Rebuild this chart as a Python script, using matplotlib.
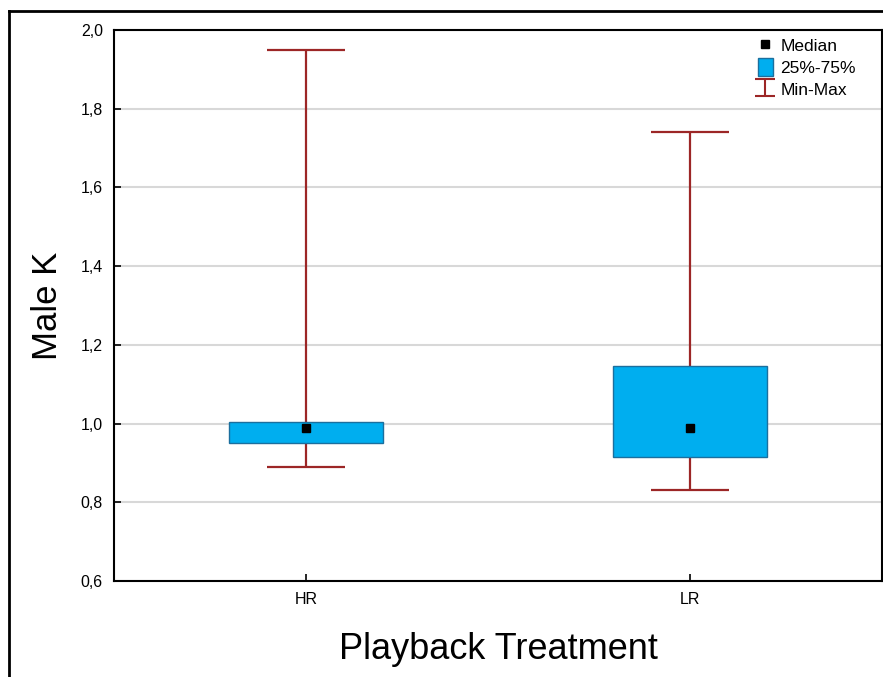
import numpy as np
import matplotlib
matplotlib.use("Agg")
from matplotlib import pyplot as plt
from matplotlib.lines import Line2D
from matplotlib.patches import Patch

# data
groups = ["HR", "LR"]
medians = [0.989, 0.989]
q1 = [0.951, 0.915]
q3 = [1.004, 1.146]
mins = [0.890, 0.831]
maxs = [1.949, 1.741]
yticks = [0.6, 0.8, 1.0, 1.2, 1.4, 1.6, 1.8, 2.0]

box_color = "#00aeef"
box_edge = "#1b6f9e"
whisk_color = "#9c2626"

plt.rcParams["font.family"] = ["Liberation Sans", "DejaVu Sans"]

fig = plt.figure(figsize=(8.83, 6.77), dpi=100)
ax = fig.add_axes([0.1291, 0.1418, 0.8698, 0.8139])

x = np.arange(len(groups))
med = np.array(medians)
lo = med - np.array(mins)
hi = np.array(maxs) - med

# min-max whiskers behind the boxes
ax.errorbar(x, med, yerr=[lo, hi], fmt="none", ecolor=whisk_color,
            elinewidth=1.6, capsize=28, capthick=1.6, zorder=2)
ax.bar(x, np.array(q3) - np.array(q1), bottom=q1, width=0.40,
       color=box_color, edgecolor=box_edge, linewidth=1.0, zorder=3)
ax.plot(x, med, "s", color="black", markersize=6, zorder=4)

ax.set_xlim(-0.5, 1.5)
ax.set_ylim(0.6, 2.0)
ax.set_xticks(x)
ax.set_xticklabels(groups, fontsize=11.5)
ax.set_yticks(yticks)
ax.set_yticklabels([("%.1f" % v).replace(".", ",") for v in yticks], fontsize=11.5)
ax.tick_params(direction="in", length=5, width=1.2, pad=8)
ax.yaxis.grid(True, color="#d8d8d8", linewidth=1.5, zorder=0)
ax.set_axisbelow(True)
for s in ax.spines.values():
    s.set_linewidth(1.5)

ax.set_ylabel("Male K", fontsize=25, labelpad=12)
ax.set_xlabel("Playback Treatment", fontsize=26, labelpad=18)

# legend
dummy = ax.errorbar([np.nan], [np.nan], yerr=[[0.1]], fmt="none",
                    ecolor=whisk_color, elinewidth=1.5, capsize=7, capthick=1.5)
handles = [
    Line2D([], [], marker="s", color="black", linestyle="none", markersize=6),
    Patch(facecolor=box_color, edgecolor=box_edge),
    dummy,
]
ax.legend(handles, ["Median", "25%-75%", "Min-Max"], loc="upper left",
          bbox_to_anchor=(0.82, 1.014), frameon=False, fontsize=12.5,
          handlelength=0.9, handleheight=1.2, handletextpad=0.4,
          labelspacing=0.25, borderpad=0.3)

# outer frame (left and top edges)
fig.add_artist(Line2D([9 / 883, 9 / 883], [0, 1 - 11 / 677],
                      color="black", linewidth=2))
fig.add_artist(Line2D([9 / 883, 1], [1 - 11 / 677, 1 - 11 / 677],
                      color="black", linewidth=2))

fig.savefig("out.png", dpi=100)
